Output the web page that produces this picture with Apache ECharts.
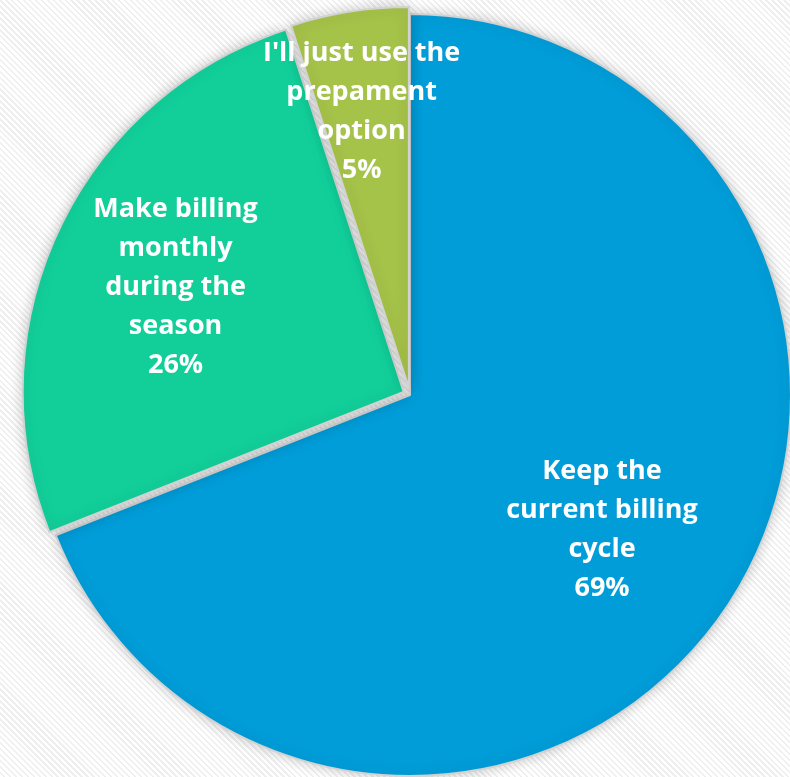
<!DOCTYPE html>
<html>
<head>
<meta charset="utf-8">
<script src="https://cdn.jsdelivr.net/npm/echarts@6/dist/echarts.min.js"></script>
<style>
  html, body { margin: 0; padding: 0; }
  body {
    width: 790px; height: 777px; overflow: hidden;
    background: repeating-linear-gradient(45deg, #ffffff 0px, #ffffff 2.5px, #efefef 2.5px, #efefef 4.2px);
  }
  #chart { width: 790px; height: 777px; }
</style>
</head>
<body>
<div id="chart"></div>
<script>
const categories = ["Keep the\ncurrent billing\ncycle", "Make billing\nmonthly\nduring the\nseason", "I'll just use the\nprepament\noption"];
const values = [69, 26, 5];
const colors = ["#009DD9", "#12CF9A", "#A5C249"];
const exploded = [false, true, true];
const labelShift = [[32, 26], [-53, -22], [-17, -85]];

const chart = echarts.init(document.getElementById('chart'), null, { renderer: 'canvas' });
chart.setOption({
  animation: false,
  backgroundColor: 'transparent',
  series: [{
    type: 'pie',
    center: [410, 395],
    radius: 381,
    startAngle: 90,
    clockwise: true,
    silent: true,
    selectedMode: 'multiple',
    selectedOffset: 7,
    data: categories.map((c, i) => ({
      name: c,
      value: values[i],
      selected: exploded[i],
      itemStyle: { color: colors[i] },
      select: { itemStyle: { color: colors[i], borderColor: '#d2d2d2', borderWidth: 2 } }
    })),
    itemStyle: {
      borderColor: '#d2d2d2',
      borderWidth: 2,
      shadowBlur: 14,
      shadowColor: 'rgba(0,0,0,0.2)'
    },
    label: {
      show: true,
      position: 'inside',
      formatter: '{b}\n{c}%',
      color: '#ffffff',
      fontFamily: 'Open Sans',
      fontWeight: 'bold',
      fontSize: 27,
      lineHeight: 39,
      align: 'center'
    },
    labelLine: { show: false },
    labelLayout: function (p) {
      const s = labelShift[p.dataIndex];
      return { dx: s[0], dy: s[1] };
    }
  }]
});
</script>
</body>
</html>
